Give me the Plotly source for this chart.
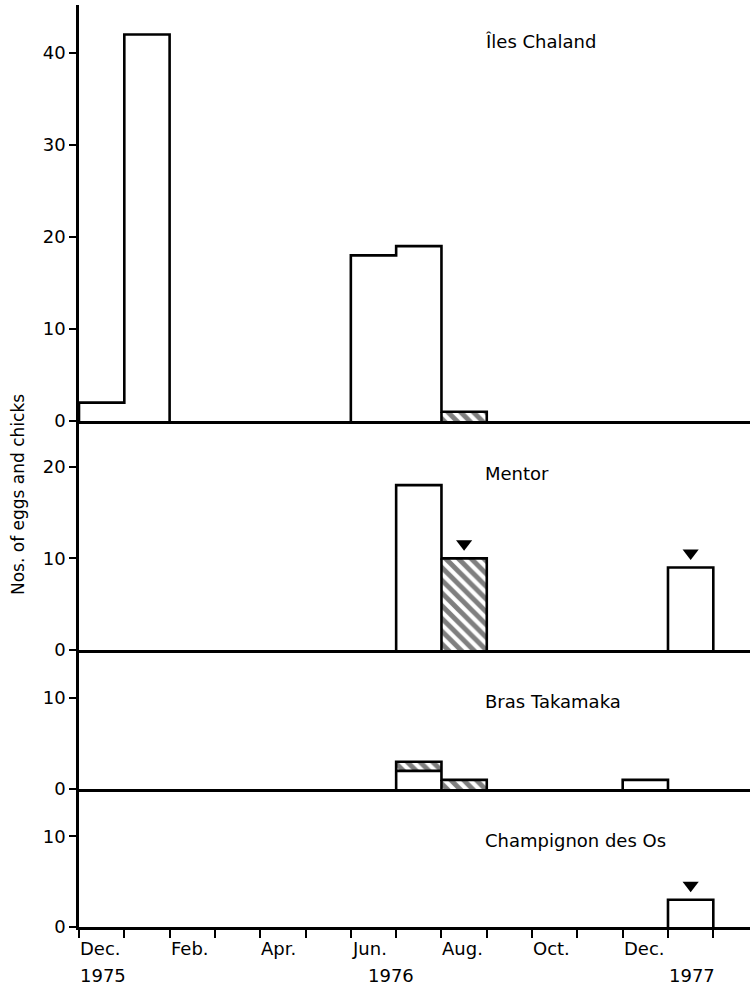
import plotly.graph_objects as go

# ---- data (month index 0 = Dec 1975 ... 13 = Jan 1977) ----
month_labels = ["Dec.", "Feb.", "Apr.", "Jun.", "Aug.", "Oct.", "Dec."]
month_label_pos = [0, 2, 4, 6, 8, 10, 12]
year_labels = ["1975", "1976", "1977"]
n_months = 14

panel_names = ["Îles Chaland", "Mentor", "Bras Takamaka", "Champignon des Os"]

chaland_white = [2, 42, 0, 0, 0, 0, 18, 19, 0, 0, 0, 0, 0, 0]
chaland_hatch = [0, 0, 0, 0, 0, 0, 0, 0, 1, 0, 0, 0, 0, 0]
chaland_tri = []

mentor_white = [0, 0, 0, 0, 0, 0, 0, 18, 0, 0, 0, 0, 0, 9]
mentor_hatch = [0, 0, 0, 0, 0, 0, 0, 0, 10, 0, 0, 0, 0, 0]
mentor_tri = [8, 13]

bras_white = [0, 0, 0, 0, 0, 0, 0, 2, 0, 0, 0, 0, 1, 0]
bras_hatch = [0, 0, 0, 0, 0, 0, 0, 1, 1, 0, 0, 0, 0, 0]
bras_tri = []

champ_white = [0, 0, 0, 0, 0, 0, 0, 0, 0, 0, 0, 0, 0, 3]
champ_hatch = [0, 0, 0, 0, 0, 0, 0, 0, 0, 0, 0, 0, 0, 0]
champ_tri = [13]

y_ticks = [[0, 10, 20, 30, 40], [0, 10, 20], [0, 10], [0, 10]]
y_ranges = [[0, 45.2], [0, 25.0], [0, 15.3], [0, 15.2]]
label_y = [41.2, 19.3, 9.6, 9.5]

panels = [
    (chaland_white, chaland_hatch, chaland_tri),
    (mentor_white, mentor_hatch, mentor_tri),
    (bras_white, bras_hatch, bras_tri),
    (champ_white, champ_hatch, champ_tri),
]

# ---- layout geometry ----
W, H = 750, 986
ML, MR, MT, MB = 79, 0, 5, 59
plot_h = H - MT - MB
bounds_px = [5, 421, 650, 789, 927]  # panel edges in pixels (top -> bottom)
domains = []
for k in range(4):
    top = (927 - bounds_px[k]) / plot_h
    bot = (927 - bounds_px[k + 1]) / plot_h
    domains.append([bot, top])

FONT = "DejaVu Sans"
LW = 2.6
x_range = [0, 14.81]

fig = go.Figure()


def outline(white, hatch):
    total = [w + h for w, h in zip(white, hatch)]
    xs, ys = [], []
    n = len(total)
    i = 0
    while i < n:
        if total[i] > 0:
            j = i
            px, py = [i], [0]
            while j < n and total[j] > 0:
                px += [j, j + 1]
                py += [total[j], total[j]]
                j += 1
            px.append(j)
            py.append(0)
            xs += px + [None]
            ys += py + [None]
            i = j
        else:
            i += 1
    for i in range(n):
        if white[i] > 0 and hatch[i] > 0:
            xs += [i, i + 1, None]
            ys += [white[i], white[i], None]
    for i in range(n - 1):
        if total[i] > 0 and total[i + 1] > 0 and not (hatch[i] == 0 and hatch[i + 1] == 0):
            xs += [i + 1, i + 1, None]
            ys += [0, min(total[i], total[i + 1]), None]
    return xs, ys


for k, (white, hatch, tri) in enumerate(panels):
    xa = "x" if k == 0 else f"x{k+1}"
    ya = "y" if k == 0 else f"y{k+1}"
    centers = [i + 0.5 for i in range(n_months)]
    fig.add_trace(go.Bar(
        x=centers, y=white, width=1, xaxis=xa, yaxis=ya,
        marker=dict(color="white", line=dict(width=0)), showlegend=False,
        hoverinfo="skip"))
    fig.add_trace(go.Bar(
        x=centers, y=hatch, width=1, xaxis=xa, yaxis=ya,
        marker=dict(color="white", line=dict(width=0),
                    pattern=dict(shape="\\", fgcolor="black", bgcolor="white",
                                 size=9, solidity=0.55, fillmode="overlay")),
        showlegend=False, hoverinfo="skip"))
    ox, oy = outline(white, hatch)
    fig.add_trace(go.Scatter(
        x=ox, y=oy, mode="lines", xaxis=xa, yaxis=ya,
        line=dict(color="black", width=LW), showlegend=False, hoverinfo="skip"))
    if tri:
        tx = [t + 0.5 for t in tri]
        ty = [white[t] + hatch[t] + 1.6 for t in tri]
        fig.add_trace(go.Scatter(
            x=tx, y=ty, mode="markers", xaxis=xa, yaxis=ya,
            marker=dict(symbol="triangle-down", size=14, color="black"),
            showlegend=False, hoverinfo="skip"))

layout = dict(
    width=W, height=H,
    margin=dict(l=ML, r=MR, t=MT, b=MB),
    paper_bgcolor="white", plot_bgcolor="white",
    barmode="stack", bargap=0,
    font=dict(family=FONT, size=18, color="black"),
)

for k in range(4):
    xkey = "xaxis" if k == 0 else f"xaxis{k+1}"
    ykey = "yaxis" if k == 0 else f"yaxis{k+1}"
    ya = "y" if k == 0 else f"y{k+1}"
    is_bottom = (k == 3)
    layout[xkey] = dict(
        range=x_range, anchor=ya, showgrid=False, zeroline=False,
        showline=True, linecolor="black", linewidth=LW,
        ticks="outside" if is_bottom else "", ticklen=8, tickwidth=2,
        tickcolor="black", tick0=0, dtick=1, showticklabels=False,
        fixedrange=True,
    )
    if k > 0:
        layout[xkey]["matches"] = "x"
    layout[ykey] = dict(
        domain=domains[k], range=y_ranges[k], anchor=("x" if k == 0 else f"x{k+1}"),
        showgrid=False, zeroline=False, showline=True, linecolor="black",
        linewidth=LW, ticks="outside", ticklen=7, tickwidth=2, tickcolor="black",
        tickvals=y_ticks[k], ticktext=[str(v) for v in y_ticks[k]],
        tickfont=dict(family=FONT, size=18, color="black"), fixedrange=True,
    )

fig.update_layout(**layout)

annotations = []
for k, name in enumerate(panel_names):
    annotations.append(dict(
        x=8.92, y=label_y[k], xref=("x" if k == 0 else f"x{k+1}"),
        yref=("y" if k == 0 else f"y{k+1}"), text=name, showarrow=False,
        xanchor="left", yanchor="middle", font=dict(family=FONT, size=18, color="black")))

for lab, pos in zip(month_labels, month_label_pos):
    annotations.append(dict(
        x=pos, y=(927 - 948) / plot_h, xref="x", yref="paper", text=lab,
        showarrow=False, xanchor="left", yanchor="middle", xshift=-1,
        font=dict(family=FONT, size=18, color="black")))

year_pos = [(0, "left"), (6.9, "center"), (13, "left")]
for lab, (pos, anc) in zip(year_labels, year_pos):
    annotations.append(dict(
        x=pos, y=(927 - 975) / plot_h, xref="x", yref="paper", text=lab,
        showarrow=False, xanchor=anc, yanchor="middle", xshift=-1,
        font=dict(family=FONT, size=18, color="black")))

annotations.append(dict(
    x=(18 - ML) / (W - ML - MR), y=(927 - 495) / plot_h, xref="paper", yref="paper",
    text="Nos. of eggs and chicks", textangle=-90, showarrow=False,
    xanchor="center", yanchor="middle", font=dict(family=FONT, size=17, color="black")))

fig.update_layout(annotations=annotations)

fig.write_html("out.html")
